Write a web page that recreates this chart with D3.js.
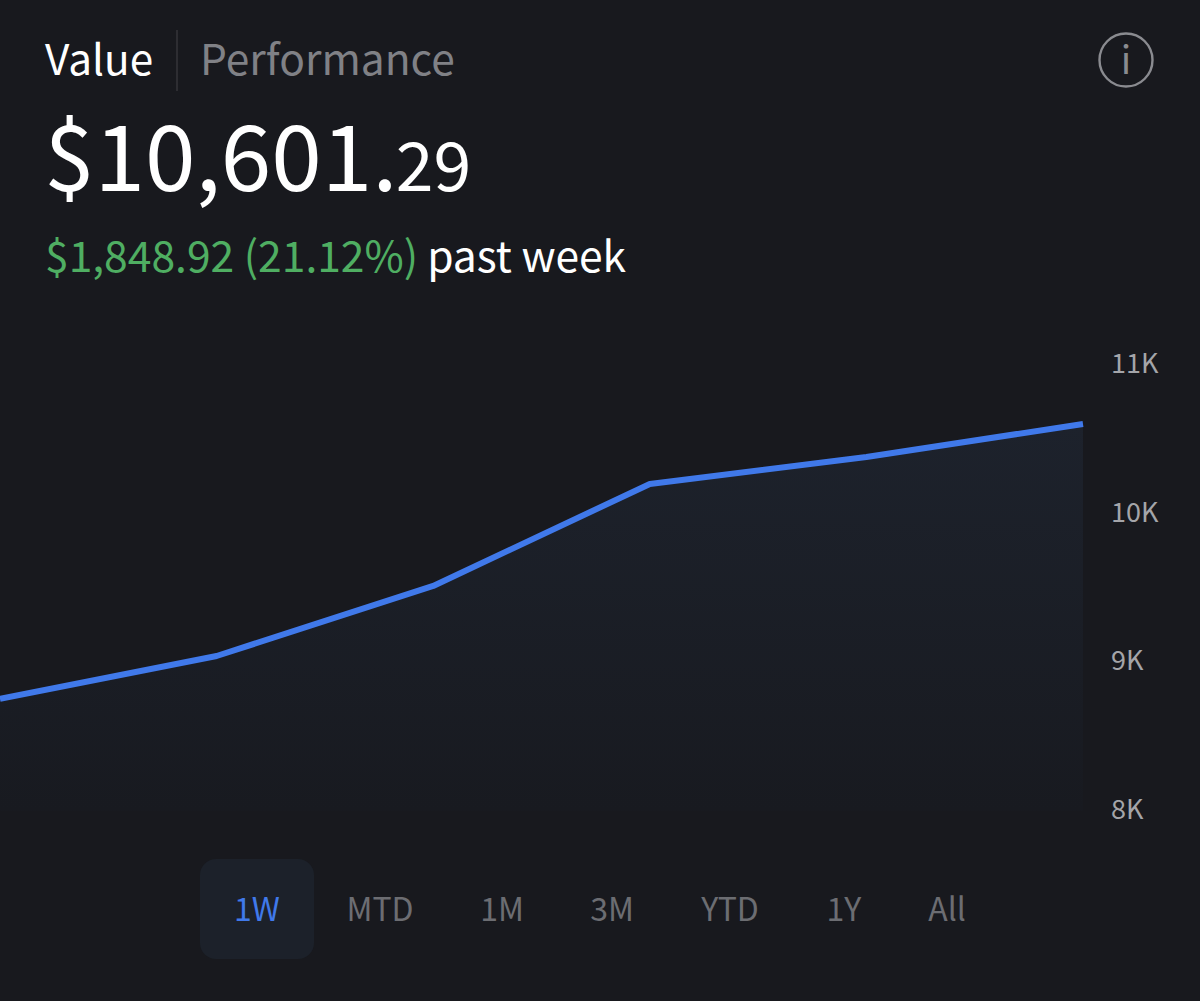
<!DOCTYPE html>
<html>
<head>
<meta charset="utf-8">
<script src="https://cdnjs.cloudflare.com/ajax/libs/d3/7.8.5/d3.min.js"></script>
<style>
  html, body { margin: 0; padding: 0; background: #18191e; }
  svg { display: block; }
  text { font-family: "Noto Sans CJK JP", "Noto Sans", sans-serif; }
</style>
</head>
<body>
<svg id="chart" width="1200" height="1001"></svg>
<script>
// Portfolio value over the past week, one reading per step
const steps = [0, 1, 2, 3, 4, 5];
const portfolioValues = [8752.37, 9041, 9512, 10198, 10379, 10601.29];
const valueTicks = [8000, 9000, 10000, 11000];
const rangeLabels = ["1W", "MTD", "1M", "3M", "YTD", "1Y", "All"];
const rangeCenters = [257, 380, 502, 612, 730, 844, 947];

const svg = d3.select("#chart");
const x = d3.scaleLinear().domain([0, 5]).range([0, 1083]);
const y = d3.scaleLinear().domain([8000, 11000]).range([810.8, 364.7]);
const series = steps.map((s, i) => ({ step: s, value: portfolioValues[i] }));

// Area fill fades into the background towards the baseline
const defs = svg.append("defs");
const grad = defs.append("linearGradient")
  .attr("id", "areaFade").attr("gradientUnits", "userSpaceOnUse")
  .attr("x1", 0).attr("x2", 0).attr("y1", y(10601.29)).attr("y2", y(8000));
grad.append("stop").attr("offset", 0).attr("stop-color", "#1d222c");
grad.append("stop").attr("offset", 1).attr("stop-color", "#181a20");

svg.append("path").datum(series)
  .attr("fill", "url(#areaFade)")
  .attr("d", d3.area().x(d => x(d.step)).y0(y(8000)).y1(d => y(d.value)));

svg.append("path").datum(series)
  .attr("fill", "none")
  .attr("stroke", "#4079ea")
  .attr("stroke-width", 6)
  .attr("stroke-linejoin", "round")
  .attr("d", d3.line().x(d => x(d.step)).y(d => y(d.value)));

// Value axis on the right, labels only
const axis = svg.append("g")
  .attr("transform", "translate(1111,0)")
  .call(d3.axisRight(y).tickValues(valueTicks).tickSize(0).tickPadding(0)
    .tickFormat(d => (d / 1000) + "K"));
axis.select(".domain").remove();
axis.selectAll("text")
  .attr("x", 0).attr("dy", "0.32em")
  .attr("transform", "translate(0,-1)")
  .attr("fill", "#a4a5a9")
  .style("font-size", "27px")
  .style("font-family", '"Noto Sans CJK JP", sans-serif');

// Header tabs
svg.append("text").attr("x", 45).attr("y", 74.5).attr("fill", "#ffffff")
  .style("font-size", "42.3px").text("Value");
svg.append("line").attr("x1", 177).attr("x2", 177).attr("y1", 30).attr("y2", 91)
  .attr("stroke", "#34353a").attr("stroke-width", 1.5);
svg.append("text").attr("x", 200).attr("y", 74.5).attr("fill", "#808186")
  .style("font-size", "42.5px").text("Performance");

// Info button
svg.append("circle").attr("cx", 1126).attr("cy", 60).attr("r", 26.5)
  .attr("fill", "none").attr("stroke", "#8a8b90").attr("stroke-width", 2.4);
svg.append("text").attr("x", 1126).attr("y", 74).attr("text-anchor", "middle")
  .attr("fill", "#8a8b90").style("font-size", "38px").text("i");

// Current value
const big = svg.append("text").attr("x", 44).attr("y", 191).attr("fill", "#ffffff")
  .style("font-size", "91px");
big.append("tspan").text("$10,601.");
big.append("tspan").style("font-size", "68px").attr("dx", -2).text("29");

// Change over the period
const change = svg.append("text").attr("x", 45).attr("y", 272).style("font-size", "42.6px");
change.append("tspan").attr("fill", "#4fae62").text("$1,848.92 (21.12%)");
change.append("tspan").attr("fill", "#ffffff").attr("dx", 9).text("past week");

// Range selector
svg.append("rect").attr("x", 200).attr("y", 859).attr("width", 114).attr("height", 100)
  .attr("rx", 16).attr("fill", "#1c212a");
svg.selectAll("text.range").data(rangeLabels).join("text")
  .attr("class", "range")
  .attr("x", (d, i) => rangeCenters[i])
  .attr("y", 921)
  .attr("text-anchor", "middle")
  .attr("fill", (d, i) => i === 0 ? "#4079ea" : "#6c6d72")
  .style("font-size", "32px")
  .text(d => d);
</script>
</body>
</html>
